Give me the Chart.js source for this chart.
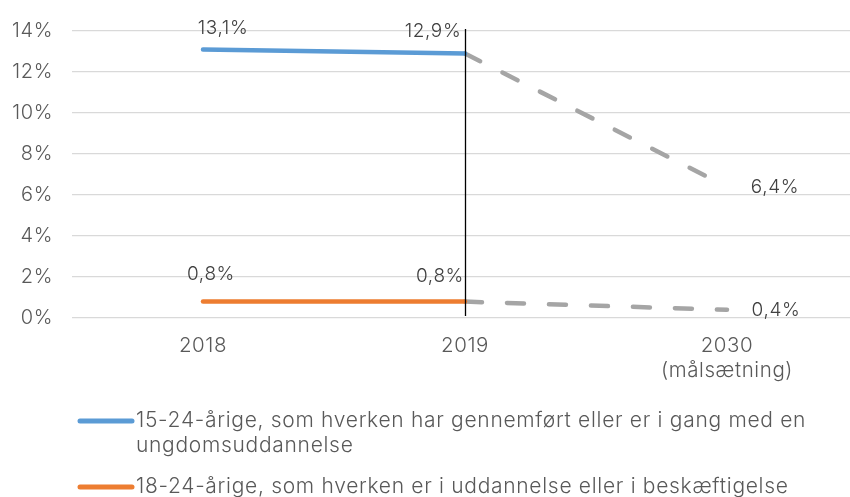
<!DOCTYPE html>
<html>
<head>
<meta charset="utf-8">
<script src="https://cdn.jsdelivr.net/npm/chart.js@4.4.1/dist/chart.umd.min.js"></script>
<style>
  html, body { margin: 0; padding: 0; background: #fff; overflow: hidden; }
  #wrap { position: relative; width: 860px; height: 497px; }
</style>
</head>
<body>
<div id="wrap"><canvas id="c" width="860" height="497"></canvas></div>
<script>
// ---- data ----
const categories = [['2018'], ['2019'], ['2030', '(målsætning)']];
const youthNoEducation = [13.1, 12.9, null];      // 15-24-årige
const youthNeet = [0.8, 0.8, null];               // 18-24-årige
const targetNoEducation = [null, 12.9, 6.4];
const targetNeet = [null, 0.8, 0.4];
const seriesNames = [
  '15-24-årige, som hverken har gennemført eller er i gang med en ungdomsuddannelse',
  '18-24-årige, som hverken er i uddannelse eller i beskæftigelse'
];
const legendLines = [
  ['15-24-årige, som hverken har gennemført eller er i gang med en', 'ungdomsuddannelse'],
  ['18-24-årige, som hverken er i uddannelse eller i beskæftigelse']
];
const yTicks = [0, 2, 4, 6, 8, 10, 12, 14];

const FONT = 'Inter, Lato, "Noto Sans", sans-serif';
const fmt = v => v.toFixed(1).replace('.', ',') + '%';

// label placements: [datasetIndex, pointIndex, dx, dy]
const labelSpots = [
  [0, 0, 20, -21], [0, 1, -32, -22],
  [1, 0, 8, -27], [1, 1, -25, -25],
  [2, 2, 48, 0], [3, 2, 49, 0]
];

const extras = {
  id: 'extras',
  beforeDraw(chart) {
    chart.ctx.letterSpacing = '0.6px';
  },
  afterDatasetsDraw(chart) {
    const ctx = chart.ctx;
    const x = chart.scales.x, y = chart.scales.y;
    // vertical marker at 2019
    const vx = Math.round(x.getPixelForValue(1)) + 0.5;
    ctx.save();
    ctx.strokeStyle = '#000';
    ctx.lineWidth = 1.3;
    ctx.beginPath();
    ctx.moveTo(vx, y.getPixelForValue(14) - 2);
    ctx.lineTo(vx, y.getPixelForValue(0) - 2);
    ctx.stroke();
    // data labels
    ctx.font = '300 19px ' + FONT;
    ctx.fillStyle = '#404040';
    ctx.textAlign = 'center';
    ctx.textBaseline = 'middle';
    labelSpots.forEach(([d, i, dx, dy]) => {
      const v = chart.data.datasets[d].data[i];
      ctx.fillText(fmt(v), x.getPixelForValue(i) + dx, y.getPixelForValue(v) + dy);
    });
    // legend
    ctx.letterSpacing = '0.7px';
    ctx.font = '300 21px ' + FONT;
    ctx.fillStyle = '#595959';
    ctx.textAlign = 'left';
    const rows = [421, 487];
    [0, 1].forEach(k => {
      const ds = chart.data.datasets[k];
      ctx.strokeStyle = ds.borderColor;
      ctx.lineWidth = 5;
      ctx.lineCap = 'round';
      ctx.beginPath();
      ctx.moveTo(80, rows[k]);
      ctx.lineTo(132, rows[k]);
      ctx.stroke();
      legendLines[k].forEach((t, j) => ctx.fillText(t, 136, rows[k] + j * 25));
    });
    ctx.restore();
  }
};

new Chart(document.getElementById('c'), {
  type: 'line',
  data: {
    labels: categories,
    datasets: [
      { label: seriesNames[0], data: youthNoEducation, borderColor: '#5b9bd5', borderWidth: 4.5, borderCapStyle: 'round', pointRadius: 0 },
      { label: seriesNames[1], data: youthNeet, borderColor: '#ed7d31', borderWidth: 4.5, borderCapStyle: 'round', pointRadius: 0 },
      { label: 'Målsætning 1', data: targetNoEducation, borderColor: '#a5a5a5', borderWidth: 4.5, borderDash: [17, 25], borderCapStyle: 'round', pointRadius: 0 },
      { label: 'Målsætning 2', data: targetNeet, borderColor: '#a5a5a5', borderWidth: 4.5, borderDash: [17, 25], borderCapStyle: 'round', pointRadius: 0 }
    ]
  },
  options: {
    responsive: false,
    animation: false,
    layout: { padding: { top: 24, right: 2, bottom: 89, left: 0 } },
    plugins: { legend: { display: false }, tooltip: { enabled: false } },
    scales: {
      x: {
        offset: true,
        grid: { display: false, drawTicks: false },
        border: { display: false },
        ticks: { color: '#595959', font: { family: FONT, size: 20.5, weight: 300, lineHeight: 1.2 }, padding: 16, maxRotation: 0, autoSkip: false },
        afterFit(s) { s.height = 90; }
      },
      y: {
        min: 0, max: 14,
        afterBuildTicks(s) { s.ticks = yTicks.map(v => ({ value: v })); },
        grid: { color: '#d9d9d9', lineWidth: 1.3, drawTicks: false },
        border: { display: false },
        ticks: { color: '#595959', font: { family: FONT, size: 20, weight: 300 }, padding: 19, callback: v => v + '%' },
        afterFit(s) { s.width = 72; }
      }
    }
  },
  plugins: [extras]
});
</script>
</body>
</html>
